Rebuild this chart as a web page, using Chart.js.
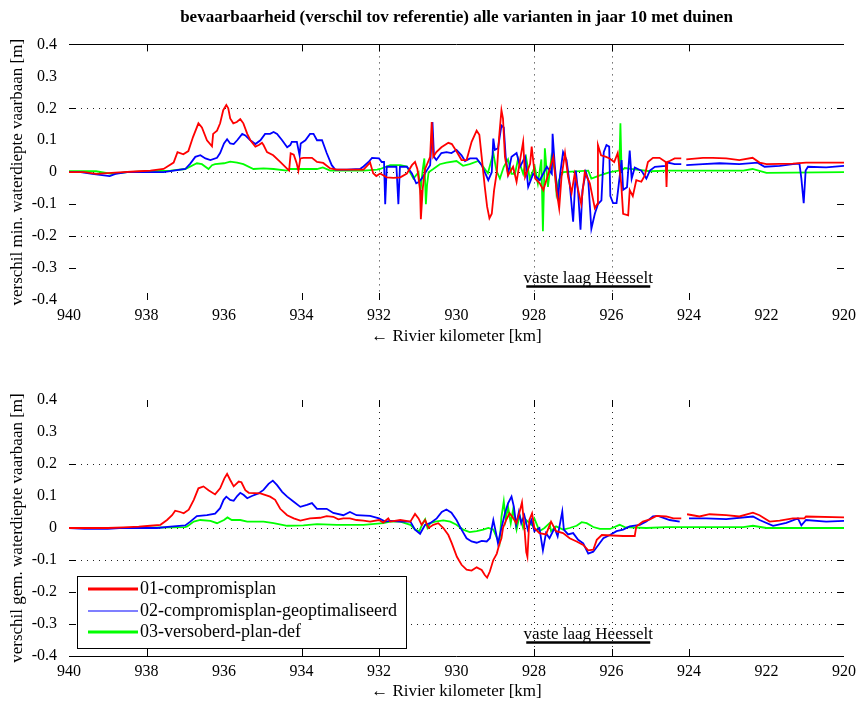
<!DOCTYPE html>
<html>
<head>
<meta charset="utf-8">
<script src="https://cdn.jsdelivr.net/npm/chart.js@4.4.0/dist/chart.umd.min.js"></script>
<style>
  html, body { margin: 0; padding: 0; background: #fff; }
  #wrap { position: relative; width: 862px; height: 703px; }
  #top { position: absolute; left: 0; top: 0; }
  #bot { position: absolute; left: 0; top: 348px; }
</style>
</head>
<body>
<div id="wrap">
  <canvas id="top" width="862" height="348"></canvas>
  <canvas id="bot" width="862" height="355"></canvas>
</div>
<script>
// series names / colours
const seriesNames = ['01-compromisplan', '02-compromisplan-geoptimaliseerd', '03-versoberd-plan-def'];
const seriesColors = ['#ff0000', '#0000ff', '#00ff00'];

// ---- top panel: verschil min. waterdiepte ----
const kmTopRed = [940,939.6,939.3,939.0,938.6,938.2,937.9,937.56,937.3,937.2,937.05,936.92,936.8,936.66,936.57,936.44,936.31,936.28,936.18,936.1,936.02,935.94,935.89,935.84,935.76,935.67,935.58,935.5,935.4,935.32,935.19,935.1,935.02,934.98,934.89,934.73,934.55,934.38,934.32,934.28,934.2,934.13,934.08,934.03,933.95,933.73,933.6,933.44,933.26,933.09,932.4,932.23,932.15,932.07,931.97,931.8,931.63,931.45,931.28,931.15,931.07,931.01,930.94,930.92,930.87,930.81,930.68,930.64,930.6,930.52,930.39,930.21,930.12,929.99,929.87,929.74,929.61,929.48,929.41,929.35,929.27,929.21,929.15,929.09,929.03,928.96,928.9,928.84,928.8,928.75,928.67,928.54,928.45,928.36,928.28,928.23,928.1,928.06,927.97,927.85,927.76,927.63,927.5,927.42,927.35,927.29,927.2,927.12,927.03,926.95,926.86,926.78,926.69,926.56,926.43,926.37,926.35,926.27,926.14,926.05,925.93,925.84,925.75,925.7,925.57,925.53,925.45,925.36,925.23,925.14,925.06,924.93,924.76,924.6,924.58,924.56,924.5,924.37,924.2,924.15,924.07,923.64,923.39,923.04,922.7,922.36,922.18,922.0,921.32,920.98,920];
const valTopRed = [0,0,-0.005,-0.003,0,0.003,0.005,0.01,0.03,0.063,0.056,0.066,0.11,0.153,0.14,0.1,0.081,0.12,0.13,0.153,0.194,0.21,0.2,0.168,0.153,0.157,0.166,0.153,0.12,0.1,0.08,0.085,0.092,0.085,0.063,0.053,0.032,0.012,0.005,0.059,0.055,0.03,0.005,0.043,0.045,0.045,0.032,0.029,0.012,0.008,0.008,0.03,-0.003,-0.012,-0.004,-0.016,-0.018,-0.016,-0.004,0.022,0.032,0.01,-0.056,-0.147,-0.05,0.01,0.048,0.157,0.048,0.063,0.078,0.092,0.088,0.063,0.038,0.038,0.095,0.13,0.117,0.048,-0.046,-0.108,-0.144,-0.13,-0.056,0,0.11,0.194,0.168,0.048,-0.01,0.017,-0.03,0.038,0.095,-0.015,0.026,0.08,-0.02,-0.035,-0.056,-0.005,0.048,-0.056,-0.113,-0.015,0.06,-0.015,-0.065,-0.005,-0.056,-0.1,0,-0.035,-0.113,-0.1,0.085,0.053,0.048,0.043,0.032,0.06,-0.035,-0.13,-0.135,-0.056,-0.075,-0.025,-0.03,-0.01,0.032,0.045,0.045,0.032,-0.046,0.032,0.035,0.043,0.043,null,0.04,0.045,0.045,0.043,0.038,0.045,0.03,0.025,0.027,0.03,0.03];

const kmTopBlue = [940,939.7,939.4,938.95,938.8,938.5,937.56,937.3,937.0,936.87,936.74,936.61,936.48,936.35,936.18,936.1,936.0,935.92,935.84,935.75,935.66,935.53,935.45,935.32,935.19,935.06,934.94,934.81,934.72,934.63,934.5,934.37,934.29,934.25,934.12,934.05,934.02,933.9,933.78,933.69,933.6,933.47,933.35,933.22,933.13,932.83,932.49,932.4,932.27,932.18,932.0,931.93,931.87,931.84,931.8,931.55,931.5,931.46,931.28,931.15,931.04,930.96,930.87,930.77,930.68,930.62,930.58,930.52,930.39,930.26,930.13,930.0,929.87,929.78,929.65,929.48,929.35,929.27,929.18,929.09,929.05,929.01,928.93,928.84,928.78,928.73,928.67,928.58,928.45,928.36,928.23,928.15,928.02,927.85,927.67,927.54,927.52,927.46,927.38,927.33,927.25,927.16,927.08,926.99,926.92,926.86,926.8,926.75,926.66,926.6,926.52,926.43,926.35,926.26,926.2,926.13,926.06,926.03,925.96,925.87,925.83,925.74,925.7,925.6,925.53,925.48,925.4,925.23,925.1,925.01,924.88,924.6,924.55,924.37,924.2,924.15,924.07,923.64,923.21,922.7,922.23,922.05,921.66,921.32,921.15,921.1,921.04,920.99,920.93,920.46,920];
const valTopBlue = [0,0,-0.005,-0.012,-0.005,0,0,0.005,0.01,0.027,0.048,0.053,0.043,0.038,0.045,0.06,0.09,0.103,0.09,0.088,0.1,0.12,0.115,0.1,0.088,0.1,0.12,0.12,0.126,0.12,0.1,0.078,0.085,0.095,0.095,0.053,0.09,0.1,0.12,0.12,0.1,0.1,0.06,0.022,0.008,0.008,0.01,0.018,0.032,0.045,0.043,0.032,0.032,-0.1,0.017,0.017,-0.1,0.017,0.017,-0.004,-0.035,-0.03,-0.015,0.005,0.022,0.157,0.048,0.038,0.06,0.063,0.06,0.07,0.053,0.035,0.043,0.043,0.022,0,-0.025,0,0.105,0.07,0.075,0.146,0.14,0.048,-0.005,0.048,0.06,0.017,0.048,-0.046,-0.005,-0.025,0.017,-0.005,0.12,0.017,-0.088,-0.01,0.063,0.038,-0.035,-0.155,0.005,-0.065,-0.18,-0.056,0,-0.025,-0.177,-0.13,-0.1,-0.088,0.063,0.085,0.08,-0.075,-0.097,-0.097,-0.056,0.038,-0.055,-0.047,0.068,-0.02,0.015,0.005,-0.02,0.005,0.017,0.02,0.03,0.025,0.025,null,0.022,0.025,0.028,0.025,0.03,0.017,0.02,0.025,0.027,-0.02,-0.097,0.005,0.017,0.015,0.02];

const kmTopGreen = [940,939.3,938.9,938.5,937.9,937.38,937.0,936.7,936.57,936.4,936.31,936.23,936.0,935.84,935.66,935.5,935.24,934.98,934.72,934.38,934.29,933.6,933.45,933.26,932.4,932.05,931.97,931.71,931.45,931.28,931.11,930.98,930.93,930.87,930.83,930.79,930.76,930.72,930.6,930.43,930.26,930.0,929.83,929.66,929.44,929.31,929.19,929.05,928.97,928.88,928.78,928.67,928.58,928.49,928.41,928.28,928.2,928.11,927.98,927.9,927.81,927.77,927.72,927.64,927.55,927.46,927.42,927.36,927.25,926.6,926.52,926.3,926.04,925.8,925.77,925.74,925.66,925.36,925.0,924.59,922.6,922.36,922.0,920];
const valTopGreen = [0.003,0.003,-0.005,0,0.003,0.005,0.01,0.028,0.025,0.01,0.022,0.025,0.028,0.033,0.03,0.025,0.01,0.012,0.01,0.005,0.01,0.01,0.015,0.005,0.005,0.008,0.01,0.022,0.022,0.018,-0.02,0,-0.06,0.01,0.043,-0.1,-0.04,0,0.01,0.025,0.03,0.035,0.02,0.025,0.035,0.017,-0.003,0.06,0.005,-0.02,0.017,0.04,-0.005,-0.005,0.043,-0.005,0.043,-0.02,0.017,-0.035,0.04,-0.185,0.075,-0.046,0.048,0.005,-0.065,-0.025,0,0.005,-0.02,-0.01,0,0.005,0.153,0.005,0.013,0.008,0.003,0.005,0.005,0.01,-0.002,0];

// ---- bottom panel: verschil gem. waterdiepte ----
const kmBotRed = [940,939.0,938.6,938.2,937.9,937.64,937.47,937.34,937.26,937.13,937.04,936.91,936.78,936.66,936.53,936.4,936.23,936.1,935.99,935.92,935.84,935.75,935.62,935.55,935.45,935.36,935.06,934.81,934.68,934.55,934.37,934.2,934.03,933.78,933.52,933.35,933.18,933.05,932.92,932.75,932.58,932.4,932.23,932.0,931.89,931.76,931.71,931.45,931.19,931.07,930.98,930.9,930.81,930.72,930.6,930.47,930.34,930.21,930.12,929.99,929.87,929.74,929.61,929.48,929.35,929.27,929.21,929.14,929.05,928.96,928.9,928.84,928.8,928.72,928.63,928.56,928.46,928.38,928.31,928.25,928.2,928.17,928.12,928.05,927.99,927.86,927.69,927.56,927.43,927.25,927.08,926.9,926.73,926.6,926.47,926.38,926.25,925.7,925.4,925.36,925.19,925.01,924.84,924.59,924.4,924.2,924.15,924.05,923.73,923.47,923.04,922.7,922.35,922.18,921.92,921.66,921.32,921.02,920.98,920];
const valBotRed = [0,0,0.002,0.004,0.007,0.01,0.025,0.04,0.054,0.05,0.046,0.057,0.088,0.124,0.13,0.118,0.105,0.124,0.155,0.169,0.15,0.13,0.145,0.143,0.118,0.11,0.108,0.098,0.088,0.06,0.04,0.03,0.023,0.03,0.032,0.037,0.035,0.027,0.03,0.03,0.025,0.023,0.02,0.025,0.017,0.03,0.02,0.025,0.02,0.044,0.03,0.01,0.025,0,0.01,0.015,0,-0.022,-0.048,-0.09,-0.115,-0.13,-0.133,-0.123,-0.131,-0.147,-0.155,-0.136,-0.1,-0.08,-0.053,-0.032,0,0.025,0.046,0.035,0.015,0.046,0.08,0.005,-0.075,-0.09,0.025,0.046,0,-0.016,-0.02,0.02,-0.01,-0.016,-0.032,-0.042,-0.053,-0.07,-0.068,-0.037,-0.022,-0.025,-0.025,0.005,0.02,0.027,0.038,0.036,0.03,0.03,null,0.043,0.036,0.043,0.04,0.036,0.048,0.04,0.02,0.023,0.03,0.03,0.036,0.033];

const kmBotBlue = [940,939.6,939.0,938.7,937.73,937.38,937.0,936.87,936.7,936.44,936.23,936.1,936.01,935.94,935.84,935.75,935.66,935.58,935.49,935.4,935.28,935.11,934.98,934.85,934.74,934.63,934.5,934.37,934.2,934.03,933.86,933.73,933.6,933.35,933.18,932.92,932.75,932.58,932.23,932.0,931.84,931.71,931.45,931.19,931.07,930.94,930.81,930.68,930.51,930.38,930.26,930.13,930.0,929.87,929.74,929.61,929.48,929.35,929.22,929.14,929.05,928.98,928.93,928.84,928.75,928.67,928.58,928.52,928.46,928.39,928.33,928.25,928.16,928.07,927.99,927.86,927.77,927.69,927.6,927.47,927.39,927.27,927.23,927.12,926.99,926.86,926.73,926.6,926.47,926.34,926.21,926.04,925.87,925.7,925.53,925.27,925.1,924.93,924.8,924.5,924.24,924.15,924.0,923.56,923.04,922.35,922.18,921.83,921.49,921.19,921.1,920.98,920.46,920];
const valBotBlue = [0,-0.003,-0.003,0,0,0.004,0.008,0.02,0.037,0.04,0.045,0.062,0.088,0.098,0.088,0.085,0.1,0.11,0.103,0.093,0.1,0.108,0.119,0.138,0.148,0.134,0.113,0.098,0.082,0.066,0.072,0.078,0.06,0.06,0.047,0.04,0.05,0.04,0.038,0.03,0.02,0.022,0.02,0.02,-0.005,-0.018,0.01,0.015,0.03,0.05,0.058,0.048,0.025,-0.005,-0.032,-0.042,-0.046,-0.04,-0.042,-0.032,0.025,-0.016,-0.048,0,0.046,0.077,0.098,0.067,0.01,0.05,0.015,0.04,-0.005,0.025,-0.01,0,-0.07,-0.016,-0.032,0,-0.026,0.052,-0.005,-0.02,-0.016,-0.037,-0.048,-0.08,-0.074,-0.053,-0.032,-0.022,-0.01,-0.005,0.005,0.01,0.02,0.036,0.038,0.025,0.02,null,0.03,0.03,0.028,0.036,0.025,0.007,0.016,0.03,0.008,0.025,0.02,0.022];

const kmBotGreen = [940,938.4,937.0,936.95,936.78,936.61,936.35,936.18,936.0,935.91,935.8,935.58,935.4,934.98,934.72,934.37,933.95,933.6,933.09,932.4,931.89,931.71,931.45,931.19,931.07,930.96,930.87,930.81,930.75,930.68,930.55,930.34,930.16,930.0,929.83,929.66,929.48,929.31,929.18,929.05,928.96,928.89,928.84,928.78,928.73,928.67,928.6,928.54,928.45,928.37,928.28,928.2,928.07,927.99,927.86,927.73,927.6,927.56,927.43,927.25,927.08,926.9,926.77,926.64,926.47,926.3,926.04,925.79,925.66,925.1,924.6,922.6,922.35,922.0,920];
const valBotGreen = [0,0,0.003,0.005,0.02,0.025,0.022,0.015,0.025,0.033,0.025,0.025,0.02,0.02,0.015,0.007,0.008,0.012,0.01,0.01,0.015,0.02,0.02,0.01,-0.005,-0.01,0.015,0.027,0,0.015,0.02,0.024,0.02,0.01,-0.005,-0.013,-0.01,-0.005,0,-0.005,-0.03,-0.048,0.035,0.083,0.025,0.067,0.015,0.057,-0.005,0.04,0,0.025,0.01,0.03,-0.01,0,0.015,-0.01,0.005,-0.005,0,0.007,0.018,0.015,0.003,-0.003,-0.003,0.01,0.003,0,0.003,0.003,0.007,0,0];

// annotation: vaste laag Heesselt
const layerLabel = 'vaste laag Heesselt';
const layerFrom = 928.2, layerTo = 925.0;

const FONT = '"Liberation Serif", "Times New Roman", serif';

function pts(km, val) {
  return km.map((k, i) => ({ x: k, y: val[i] }));
}

function line(ctx, x1, y1, x2, y2) {
  ctx.beginPath(); ctx.moveTo(x1, y1); ctx.lineTo(x2, y2); ctx.stroke();
}

// matlab-ish axes: dotted grid, inward ticks, one border, annotation, legend
const matlabAxes = {
  id: 'matlabAxes',
  beforeDatasetsDraw(chart, args, o) {
    const { ctx, chartArea: a, scales: { x, y } } = chart;
    ctx.save();
    ctx.strokeStyle = '#222';
    ctx.lineWidth = 1;
    ctx.setLineDash([1, 5]);
    o.yDotted.forEach(v => {
      const py = Math.round(y.getPixelForValue(v)) + 0.5;
      line(ctx, a.left, py, a.right, py);
    });
    o.xDotted.forEach(v => {
      const px = Math.round(x.getPixelForValue(v)) + 0.5;
      line(ctx, px, a.top, px, a.bottom);
    });
    ctx.setLineDash([]);
    ctx.strokeStyle = '#000';
    o.yTicks.forEach(v => {
      const py = Math.round(y.getPixelForValue(v)) + 0.5;
      line(ctx, a.left, py, a.left + 7, py);
      line(ctx, a.right - 7, py, a.right, py);
    });
    o.xTicks.forEach(v => {
      const px = Math.round(x.getPixelForValue(v)) + 0.5;
      line(ctx, px, a.top, px, a.top + 7);
      line(ctx, px, a.bottom - 7, px, a.bottom);
    });
    const by = Math.round(o.border === 'top' ? a.top : a.bottom) + 0.5;
    line(ctx, a.left, by, a.right, by);
    ctx.restore();
  },
  afterDatasetsDraw(chart, args, o) {
    const { ctx, chartArea: a, scales: { x, y } } = chart;
    ctx.save();
    // vaste laag
    const x1 = x.getPixelForValue(layerFrom), x2 = x.getPixelForValue(layerTo);
    ctx.strokeStyle = '#000';
    ctx.lineWidth = 2.5;
    line(ctx, x1, y.getPixelForValue(-0.358), x2, y.getPixelForValue(-0.358));
    ctx.fillStyle = '#000';
    ctx.font = '17px ' + FONT;
    ctx.textAlign = 'center';
    ctx.textBaseline = 'middle';
    ctx.fillText(layerLabel, (x1 + x2) / 2, y.getPixelForValue(-0.333));
    // legend box
    if (o.legend) {
      const bx = a.left + 8, bt = a.top + 176, bw = 329, bh = 72;
      ctx.fillStyle = '#fff';
      ctx.fillRect(bx, bt, bw, bh);
      ctx.lineWidth = 1;
      ctx.strokeRect(bx + 0.5, bt + 0.5, bw, bh);
      const rows = [13, 35, 56];
      const widths = [3, 1.2, 3];
      chart.data.datasets.forEach((ds, i) => {
        const ry = bt + rows[i];
        ctx.strokeStyle = ds.borderColor;
        ctx.lineWidth = widths[i];
        line(ctx, bx + 11, ry, bx + 61, ry);
        ctx.fillStyle = '#000';
        ctx.textAlign = 'left';
        ctx.font = '18px ' + FONT;
        ctx.fillText(ds.label, bx + 63, ry);
      });
    }
    ctx.restore();
  }
};

function makeChart(id, datasets, opts) {
  return new Chart(document.getElementById(id), {
    type: 'line',
    data: {
      datasets: datasets.map((d, i) => ({
        label: seriesNames[i],
        data: d,
        borderColor: seriesColors[i],
        borderWidth: 1.8,
        pointRadius: 0,
        tension: 0,
        spanGaps: false,
        fill: false
      }))
    },
    options: {
      responsive: false,
      animation: false,
      layout: { padding: { top: opts.padTop, right: 17, left: 0, bottom: 0 } },
      plugins: {
        legend: { display: false },
        tooltip: { enabled: false },
        title: opts.title ? {
          display: true,
          fullSize: false,
          text: opts.title,
          color: '#000',
          font: { family: FONT, size: 17, weight: 'bold' },
          padding: { top: 0, bottom: 17 }
        } : { display: false },
        matlabAxes: opts.axes
      },
      scales: {
        x: {
          type: 'linear',
          reverse: true,
          min: 920,
          max: 940,
          afterFit: s => { s.height = opts.xHeight; },
          ticks: { stepSize: 2, color: '#000', font: { family: FONT, size: 16 }, padding: 6, maxRotation: 0 },
          grid: { display: false, drawTicks: false },
          border: { display: false },
          title: { display: true, text: '\u2190 Rivier kilometer [km]', color: '#000', font: { family: FONT, size: 17 }, padding: { top: 0, bottom: 1 } }
        },
        y: {
          min: -0.4,
          max: 0.4,
          afterFit: s => { s.width = 69; },
          ticks: {
            stepSize: 0.1,
            color: '#000',
            font: { family: FONT, size: 16 },
            padding: 12,
            callback: v => String(Math.round(v * 10) / 10)
          },
          grid: { display: false, drawTicks: false },
          border: { display: false },
          title: { display: true, text: opts.yTitle, color: '#000', font: { family: FONT, size: 17 }, padding: { top: 7, bottom: 0 } }
        }
      }
    },
    plugins: [matlabAxes]
  });
}

const xTickMarks = [938, 934, 932, 928, 926, 924];
const xDottedLines = [932, 928, 926];

makeChart('top', [pts(kmTopRed, valTopRed), pts(kmTopBlue, valTopBlue), pts(kmTopGreen, valTopGreen)], {
  padTop: 7,
  xHeight: 48,
  title: 'bevaarbaarheid (verschil tov referentie) alle varianten in jaar 10 met duinen',
  yTitle: 'verschil min. waterdiepte vaarbaan [m]',
  axes: { xTicks: xTickMarks, xDotted: xDottedLines, yTicks: [0.2, -0.1, -0.2, -0.3], yDotted: [0.2, 0, -0.2], border: 'top', legend: false }
});

makeChart('bot', [pts(kmBotRed, valBotRed), pts(kmBotBlue, valBotBlue), pts(kmBotGreen, valBotGreen)], {
  padTop: 52,
  xHeight: 47,
  title: null,
  yTitle: 'verschil gem. waterdiepte vaarbaan [m]',
  axes: { xTicks: xTickMarks, xDotted: xDottedLines, yTicks: [0.2, -0.1, -0.2, -0.3], yDotted: [0.2, 0, -0.1, -0.2, -0.3], border: 'bottom', legend: true }
});
</script>
</body>
</html>
